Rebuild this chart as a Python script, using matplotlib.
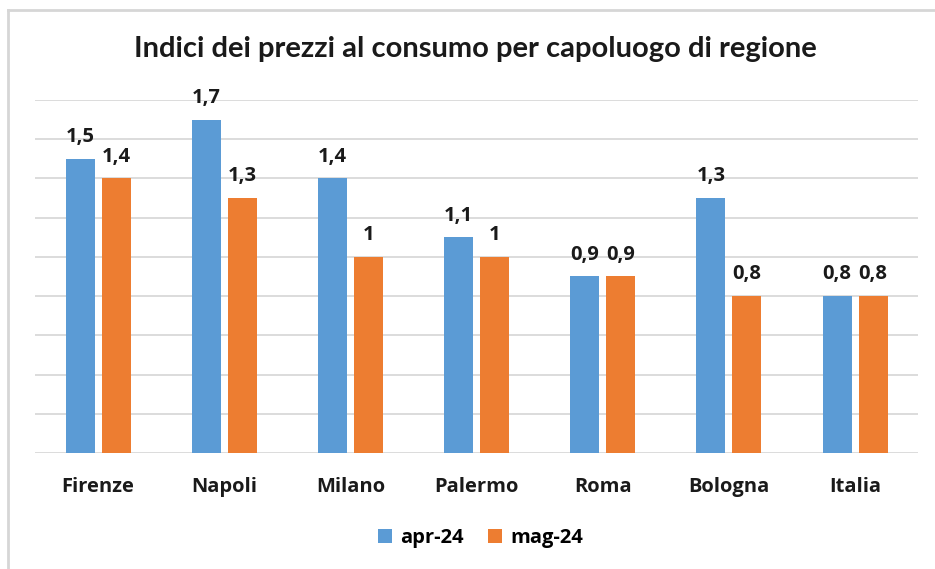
import matplotlib
matplotlib.use("Agg")
import matplotlib.pyplot as plt
from matplotlib.lines import Line2D
import numpy as np

# DATA
cities = ['Firenze', 'Napoli', 'Milano', 'Palermo', 'Roma', 'Bologna', 'Italia']
apr_24 = [1.5, 1.7, 1.4, 1.1, 0.9, 1.3, 0.8]
mag_24 = [1.4, 1.3, 1.0, 1.0, 0.9, 0.8, 0.8]
series_names = ['apr-24', 'mag-24']

plt.rcParams['font.family'] = ['Open Sans', 'DejaVu Sans']

blue = '#5B9BD5'
orange = '#ED7D31'
text_col = '#1a1a1a'

fig = plt.figure(figsize=(9.35, 5.69), dpi=100)
ax = fig.add_axes([0.0374, 0.2039, 0.9446, 0.6204])

x = np.arange(len(cities))
width = 0.23
offset = 0.143
b1 = ax.bar(x - offset, apr_24, width, color=blue, label=series_names[0], zorder=3)
b2 = ax.bar(x + offset, mag_24, width, color=orange, label=series_names[1], zorder=3)

def fmt(v):
    return f"{v:g}".replace('.', ',')

# value labels above the bars
for bars, vals in [(b1, apr_24), (b2, mag_24)]:
    for rect, v in zip(bars, vals):
        ax.annotate(fmt(v), (rect.get_x() + rect.get_width() / 2, v),
                    xytext=(0, 12), textcoords='offset points',
                    ha='center', va='baseline', fontsize=14.5, fontweight='bold',
                    color=text_col, annotation_clip=False)

ax.set_xlim(-0.5, len(cities) - 0.5)
ax.set_ylim(0, 1.8)
ax.set_yticks(np.arange(0, 1.81, 0.2))
ax.yaxis.grid(True, color='#D9D9D9', linewidth=1.3, zorder=0)
ax.tick_params(axis='y', left=False, labelleft=False)
ax.set_xticks(x)
ax.set_xticklabels(cities, fontsize=14.5, fontweight='bold', color=text_col)
ax.tick_params(axis='x', length=0, pad=17)
for side in ['top', 'right', 'left', 'bottom']:
    ax.spines[side].set_visible(False)

fig.text(0.508, 0.914, 'Indici dei prezzi al consumo per capoluogo di regione',
         ha='center', va='center', fontsize=21, fontweight='bold', color=text_col,
         family=['Lato', 'DejaVu Sans'])

fig.legend(handles=[b1, b2], labels=series_names, loc='center', bbox_to_anchor=(0.514, 0.054),
           ncol=2, frameon=False, prop={'size': 14.5, 'weight': 'bold'},
           handlelength=0.7, handleheight=0.7, handletextpad=0.4, columnspacing=1.2)

# light border of the chart area
fig.add_artist(Line2D([0.0086, 1.0], [0.983, 0.983], color='#D6D6D6', linewidth=2))
fig.add_artist(Line2D([0.0086, 0.0086], [0.0, 0.983], color='#D6D6D6', linewidth=2))

plt.savefig("out.png", dpi=100)
plt.close()
